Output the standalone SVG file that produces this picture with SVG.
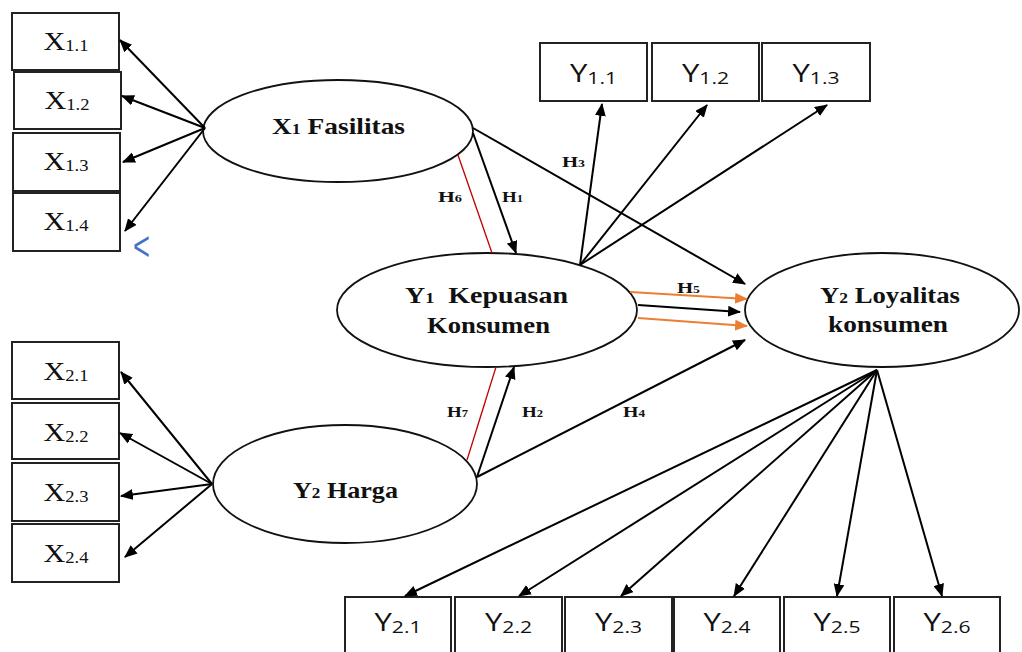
<svg xmlns="http://www.w3.org/2000/svg" width="1022" height="652" viewBox="0 0 1022 652">
<style>
.box{fill:#fff;stroke:#222;stroke-width:2}
.ell{fill:#fff;stroke:#111;stroke-width:1.8}
.ln{stroke:#000;stroke-width:2;fill:none;marker-end:url(#ah)}
.or{stroke:#ed7d31;stroke-width:2;fill:none;marker-end:url(#aho)}
.red{stroke:#c00000;stroke-width:1.3;fill:none}
.bl{font-family:"Liberation Serif","Times New Roman",serif;font-weight:bold;fill:#111}
.xs{font-family:"Liberation Serif","Times New Roman",serif;font-size:26px;fill:#111}
.ys{font-family:"Open Sans","Liberation Sans",sans-serif;font-size:25px;fill:#111}
.h{font-family:"Liberation Serif","Times New Roman",serif;font-weight:bold;font-size:15px;fill:#111}
</style>
<defs>
<marker id="ah" viewBox="0 0 12 10" refX="11" refY="5" markerWidth="13" markerHeight="11" markerUnits="userSpaceOnUse" orient="auto"><path d="M0,0 L12,5 L0,10 z" fill="#000"/></marker>
<marker id="aho" viewBox="0 0 12 10" refX="11" refY="5" markerWidth="13" markerHeight="11" markerUnits="userSpaceOnUse" orient="auto"><path d="M0,0 L12,5 L0,10 z" fill="#ed7d31"/></marker>
</defs>
<rect width="1022" height="652" fill="#fff"/>

<g id="x11"><rect class="box" x="12" y="13" width="107" height="57"/><text class="xs" x="66" y="50" text-anchor="middle" textLength="45" lengthAdjust="spacingAndGlyphs">X<tspan font-size="16" dy="1">1.1</tspan></text></g>
<g id="x12"><rect class="box" x="14" y="72" width="107" height="57"/><text class="xs" x="67" y="109" text-anchor="middle" textLength="45" lengthAdjust="spacingAndGlyphs">X<tspan font-size="16" dy="1">1.2</tspan></text></g>
<g id="x13"><rect class="box" x="13" y="133" width="107" height="58"/><text class="xs" x="66" y="170" text-anchor="middle" textLength="45" lengthAdjust="spacingAndGlyphs">X<tspan font-size="16" dy="1">1.3</tspan></text></g>
<g id="x14"><rect class="box" x="13" y="193" width="107" height="58"/><text class="xs" x="66" y="230" text-anchor="middle" textLength="45" lengthAdjust="spacingAndGlyphs">X<tspan font-size="16" dy="1">1.4</tspan></text></g>
<text x="133" y="260" font-family="Liberation Sans, sans-serif" font-size="40" fill="#4472c4" textLength="17" lengthAdjust="spacingAndGlyphs">&lt;</text>

<g id="x21"><rect class="box" x="12" y="342" width="107" height="57"/><text class="xs" x="66" y="380" text-anchor="middle" textLength="45" lengthAdjust="spacingAndGlyphs">X<tspan font-size="16" dy="1">2.1</tspan></text></g>
<g id="x22"><rect class="box" x="12" y="403" width="107" height="56"/><text class="xs" x="66" y="441" text-anchor="middle" textLength="45" lengthAdjust="spacingAndGlyphs">X<tspan font-size="16" dy="1">2.2</tspan></text></g>
<g id="x23"><rect class="box" x="12" y="463" width="107" height="58"/><text class="xs" x="66" y="501" text-anchor="middle" textLength="45" lengthAdjust="spacingAndGlyphs">X<tspan font-size="16" dy="1">2.3</tspan></text></g>
<g id="x24"><rect class="box" x="12" y="524" width="107" height="58"/><text class="xs" x="66" y="562" text-anchor="middle" textLength="45" lengthAdjust="spacingAndGlyphs">X<tspan font-size="16" dy="1">2.4</tspan></text></g>

<g id="y11"><rect class="box" x="540" y="43" width="107" height="58"/><text class="ys" x="593.5" y="82" text-anchor="middle" textLength="47" lengthAdjust="spacingAndGlyphs">Y<tspan font-size="17" dy="2">1.1</tspan></text></g>
<g id="y12"><rect class="box" x="652" y="43" width="107" height="58"/><text class="ys" x="705.5" y="82" text-anchor="middle" textLength="47" lengthAdjust="spacingAndGlyphs">Y<tspan font-size="17" dy="2">1.2</tspan></text></g>
<g id="y13"><rect class="box" x="762" y="43" width="108" height="58"/><text class="ys" x="816" y="82" text-anchor="middle" textLength="47" lengthAdjust="spacingAndGlyphs">Y<tspan font-size="17" dy="2">1.3</tspan></text></g>

<g id="y21"><rect class="box" x="345" y="597" width="106" height="62"/><text class="ys" x="398" y="631" text-anchor="middle" textLength="47" lengthAdjust="spacingAndGlyphs">Y<tspan font-size="17" dy="2">2.1</tspan></text></g>
<g id="y22"><rect class="box" x="455" y="597" width="107" height="62"/><text class="ys" x="508.5" y="631" text-anchor="middle" textLength="47" lengthAdjust="spacingAndGlyphs">Y<tspan font-size="17" dy="2">2.2</tspan></text></g>
<g id="y23"><rect class="box" x="565" y="597" width="107" height="62"/><text class="ys" x="618.5" y="631" text-anchor="middle" textLength="47" lengthAdjust="spacingAndGlyphs">Y<tspan font-size="17" dy="2">2.3</tspan></text></g>
<g id="y24"><rect class="box" x="674" y="597" width="106" height="62"/><text class="ys" x="727" y="631" text-anchor="middle" textLength="47" lengthAdjust="spacingAndGlyphs">Y<tspan font-size="17" dy="2">2.4</tspan></text></g>
<g id="y25"><rect class="box" x="784" y="597" width="106" height="62"/><text class="ys" x="837" y="631" text-anchor="middle" textLength="47" lengthAdjust="spacingAndGlyphs">Y<tspan font-size="17" dy="2">2.5</tspan></text></g>
<g id="y26"><rect class="box" x="894" y="597" width="106" height="62"/><text class="ys" x="947" y="631" text-anchor="middle" textLength="47" lengthAdjust="spacingAndGlyphs">Y<tspan font-size="17" dy="2">2.6</tspan></text></g>

<g id="fasilitas"><ellipse class="ell" cx="338" cy="131" rx="135" ry="51"/><text class="bl" x="272" y="134" font-size="23" textLength="133" lengthAdjust="spacingAndGlyphs">X<tspan font-size="15">1</tspan> Fasilitas</text></g>
<g id="kepuasan"><ellipse class="ell" cx="487" cy="310" rx="150" ry="57"/><text class="bl" x="405" y="303" font-size="23" textLength="163" lengthAdjust="spacingAndGlyphs">Y<tspan font-size="15">1</tspan>&#160; Kepuasan</text><text class="bl" x="427" y="333" font-size="23" textLength="123" lengthAdjust="spacingAndGlyphs">Konsumen</text></g>
<g id="loyalitas"><ellipse class="ell" cx="882" cy="310" rx="137" ry="57"/><text class="bl" x="820" y="303" font-size="23" textLength="140" lengthAdjust="spacingAndGlyphs">Y<tspan font-size="15">2</tspan> Loyalitas</text><text class="bl" x="828" y="332" font-size="23" textLength="120" lengthAdjust="spacingAndGlyphs">konsumen</text></g>
<g id="harga"><ellipse class="ell" cx="345" cy="484" rx="132" ry="59"/><text class="bl" x="293" y="498" font-size="23" textLength="105" lengthAdjust="spacingAndGlyphs">Y<tspan font-size="15">2</tspan> Harga</text></g>

<g id="connectors">
<line class="ln" x1="205" y1="128" x2="120" y2="40"/>
<line class="ln" x1="205" y1="128" x2="122" y2="96"/>
<line class="ln" x1="205" y1="128" x2="123" y2="162"/>
<line class="ln" x1="205" y1="128" x2="125" y2="231"/>
<line class="ln" x1="212" y1="484" x2="121" y2="372"/>
<line class="ln" x1="212" y1="484" x2="120" y2="433"/>
<line class="ln" x1="212" y1="484" x2="121" y2="496"/>
<line class="ln" x1="212" y1="484" x2="125" y2="557"/>
<line class="ln" x1="580" y1="265" x2="602" y2="104"/>
<line class="ln" x1="580" y1="265" x2="707" y2="105"/>
<line class="ln" x1="580" y1="265" x2="827" y2="105"/>
<line class="ln" x1="473" y1="128" x2="745" y2="284"/>
<line class="ln" x1="473" y1="133" x2="516" y2="253"/>
<line class="red" x1="458" y1="155" x2="492" y2="253"/>
<line class="ln" x1="477" y1="477" x2="514" y2="367"/>
<line class="red" x1="467" y1="460" x2="496" y2="367"/>
<line class="ln" x1="477" y1="477" x2="745" y2="340"/>
<line class="or" x1="630" y1="292" x2="747" y2="299"/>
<line class="ln" x1="638" y1="305" x2="740" y2="312"/>
<line class="or" x1="638" y1="318" x2="747" y2="326"/>
<line class="ln" x1="877" y1="370" x2="405" y2="596"/>
<line class="ln" x1="877" y1="370" x2="519" y2="596"/>
<line class="ln" x1="877" y1="370" x2="621" y2="596"/>
<line class="ln" x1="877" y1="370" x2="734" y2="596"/>
<line class="ln" x1="877" y1="370" x2="837" y2="596"/>
<line class="ln" x1="877" y1="370" x2="942" y2="596"/>
<text class="h" x="438" y="202" textLength="24" lengthAdjust="spacingAndGlyphs">H<tspan font-size="10">6</tspan></text>
<text class="h" x="502" y="202" textLength="21" lengthAdjust="spacingAndGlyphs">H<tspan font-size="10">1</tspan></text>
<text class="h" x="562" y="167" textLength="23" lengthAdjust="spacingAndGlyphs">H<tspan font-size="10">3</tspan></text>
<text class="h" x="677" y="293" textLength="23" lengthAdjust="spacingAndGlyphs">H<tspan font-size="10">5</tspan></text>
<text class="h" x="447" y="417" textLength="21" lengthAdjust="spacingAndGlyphs">H<tspan font-size="10">7</tspan></text>
<text class="h" x="522" y="417" textLength="21" lengthAdjust="spacingAndGlyphs">H<tspan font-size="10">2</tspan></text>
<text class="h" x="623" y="417" textLength="22" lengthAdjust="spacingAndGlyphs">H<tspan font-size="10">4</tspan></text>
</g>
</svg>
